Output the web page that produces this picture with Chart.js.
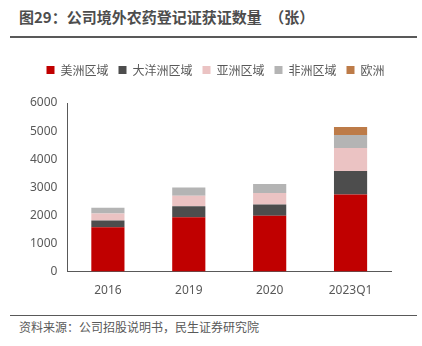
<!DOCTYPE html>
<html>
<head>
<meta charset="utf-8">
<script src="https://cdn.jsdelivr.net/npm/chart.js@4"></script>
<style>
  body { margin: 0; width: 422px; height: 346px; background: #fff; position: relative; overflow: hidden;
         font-family: "Noto Sans CJK SC", "Noto Sans", sans-serif; }
  #title { position: absolute; left: 19px; top: 6px; font-size: 15px; font-weight: bold; color: #4d4d4d; }
  #topLine { position: absolute; left: 10px; top: 36px; width: 407px; height: 2px; background: #595959; }
  #chartBox { position: absolute; left: 0; top: 40px; width: 422px; height: 270px; }
  #bottomLine { position: absolute; left: 10px; top: 315px; width: 407px; height: 1px; background: #595959; }
  #source { position: absolute; left: 19px; top: 318px; font-size: 12px; color: #595959; }
</style>
</head>
<body>
<div id="title">图29：公司境外农药登记证获证数量　（张）</div>
<div id="topLine"></div>
<div id="chartBox"><canvas id="result"></canvas></div>
<div id="bottomLine"></div>
<div id="source">资料来源：公司招股说明书，民生证券研究院</div>
<script>
// 类别与各区域数据（张）
const categories = ['2016', '2019', '2020', '2023Q1'];
const americas = [1580, 1930, 1990, 2740];
const oceania = [235, 400, 400, 840];
const asia = [255, 365, 410, 820];
const africa = [200, 295, 320, 460];
const europe = [0, 0, 0, 290];

const ctx = document.getElementById('result').getContext('2d');

const data = {
    labels: categories,
    datasets: [
        { label: '美洲区域', data: americas, backgroundColor: '#C00000' },
        { label: '大洋洲区域', data: oceania, backgroundColor: '#4D4D4D' },
        { label: '亚洲区域', data: asia, backgroundColor: '#EBC3C3' },
        { label: '非洲区域', data: africa, backgroundColor: '#B4B4B4' },
        { label: '欧洲', data: europe, backgroundColor: '#BD7B48' }
    ]
};

// 图例下方留出更多空白，并稍微右移
const legendTweak = {
    id: 'legendTweak',
    beforeInit(chart) {
        const fit = chart.legend.fit;
        chart.legend.fit = function () {
            fit.bind(chart.legend)();
            this.height += 17;
        };
    },
    afterLayout(chart) {
        chart.legend.left += 10;
        chart.legend.right += 10;
    }
};

const myChart = new Chart(ctx, {
    type: 'bar',
    data: data,
    plugins: [legendTweak],
    options: {
        responsive: true,
        maintainAspectRatio: false,
        animation: false,
        datasets: { bar: { categoryPercentage: 1, barPercentage: 0.41 } },
        layout: { padding: { left: 20, right: 31, top: 14, bottom: 0 } },
        scales: {
            x: {
                stacked: true,
                grid: { display: false, drawTicks: false },
                border: { color: '#595959', width: 1 },
                ticks: { color: '#595959', font: { size: 12, family: 'Noto Sans' }, padding: 12 }
            },
            y: {
                stacked: true,
                min: 0,
                max: 6000,
                grid: { display: false, drawTicks: false },
                border: { color: '#595959', width: 1 },
                ticks: {
                    stepSize: 1000,
                    color: '#595959',
                    font: { size: 12, family: 'Noto Sans' },
                    padding: 10,
                    callback: value => String(value)
                }
            }
        },
        plugins: {
            legend: {
                position: 'top',
                labels: {
                    boxWidth: 8,
                    boxHeight: 8,
                    padding: 10,
                    color: '#595959',
                    font: { size: 12, family: 'Noto Sans CJK SC' }
                }
            },
            tooltip: { enabled: false }
        }
    }
});
</script>
</body>
</html>
